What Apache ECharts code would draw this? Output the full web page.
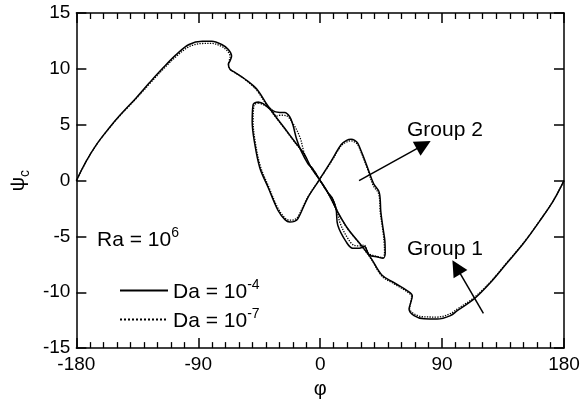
<!DOCTYPE html>
<html>
<head>
<meta charset="utf-8">
<script src="https://cdn.jsdelivr.net/npm/echarts@6/dist/echarts.min.js"></script>
<style>
  html, body { margin: 0; padding: 0; background: #fff; }
  #main { width: 585px; height: 404px; }
</style>
</head>
<body>
<div id="main"></div>
<script>
// psi_c against phi, Ra = 10^6

var xTicks = [-180, -90, 0, 90, 180];
var xMinorSplit = 9;
var yTicks = [-15, -10, -5, 0, 5, 10, 15];
var seriesNames = ['Da = 10^-4', 'Da = 10^-7'];

// group 1 branch (runs over the whole range of phi)
var mainDa4 = [[-180,0],[-172.7,1.74],[-165.3,3.2],[-155.5,4.75],[-148.2,5.8],[-135.9,7.4],[-126.1,8.75],
  [-116.3,10.05],[-106.5,11.25],[-96.8,12.18],[-87,12.47],[-80,12.47],[-72.7,12.18],[-67.8,11.74],
  [-65.4,11.15],[-66.6,10.71],[-67.8,10.41],[-66.6,9.97],[-63,9.68],[-55.6,9.09],[-47,8.21],
  [-39.7,6.88],[-33.6,5.85],[-26.2,4.68],[-18.9,3.5],[-11.5,2.32],[-6.6,1.15],[0,0],[5.6,-1.06],
  [13,-2.82],[20.3,-4.29],[30.1,-5.76],[37.5,-6.94],[45.5,-8.45],[54.6,-9.15],[64.4,-9.88],
  [68,-10.32],[66.9,-10.91],[65.6,-11.5],[69.3,-12.09],[76.7,-12.38],[86.4,-12.4],[96.2,-12.09],
  [101.2,-11.65],[113.4,-10.62],[125.6,-9.15],[137.9,-7.38],[150.1,-5.62],[162.4,-3.56],
  [172.2,-1.79],[180,0]];

var mainDa7 = [[-180,0],[-172.7,1.72],[-165.3,3.18],[-155.5,4.72],[-148.2,5.76],[-135.9,7.33],[-126.1,8.64],
  [-116.3,9.92],[-106.5,11.08],[-96.8,11.98],[-87,12.27],[-80,12.28],[-73,12.02],[-68.5,11.6],
  [-66.5,11.1],[-67.2,10.7],[-67.6,10.35],[-66,9.92],[-62.5,9.62],[-55,9.0],[-47,8.1],
  [-39.7,6.8],[-33.6,5.8],[-26.2,4.62],[-18.9,3.45],[-11.5,2.28],[-6.6,1.12],[0,0],[5.6,-1.1],
  [13,-2.86],[20.3,-4.33],[30.1,-5.8],[37.5,-7.0],[45.5,-8.55],[54.6,-9.25],[64.4,-9.98],
  [67.5,-10.4],[66.8,-10.95],[66,-11.45],[69.5,-11.95],[76.7,-12.2],[86.4,-12.22],[96.2,-11.92],
  [101.2,-11.5],[113.4,-10.5],[125.6,-9.08],[137.9,-7.33],[150.1,-5.58],[162.4,-3.54],
  [172.2,-1.78],[180,0]];

// group 2 branch (closed loop round the middle)
var loopDa4 = [[-46,7.03],[-49.5,6.8],[-50.2,5.27],[-48.6,3.5],[-44.6,1.15],[-38.4,-0.62],[-31.1,-2.68],
  [-26,-3.5],[-22.5,-3.71],[-19,-3.65],[-16.4,-3.41],[-9,-1.5],[-1,0],[8.1,1.74],[15.4,3.21],
  [19.5,3.6],[22.8,3.7],[25.5,3.6],[27.7,3.35],[31.3,2.32],[35,1.15],[39.5,-0.3],[43.6,-1.06],
  [44.8,-2.82],[46.3,-4.2],[47.8,-5.47],[48,-6.5],[46.5,-6.95],[42.4,-6.85],[36.2,-6.65],
  [32.6,-5.91],[28.9,-6.06],[24,-6.06],[19.1,-5.47],[13,-4.0],[11.7,-2.53],[9,-1.6],[5.6,-1.06],
  [0,0],[-5.6,1.06],[-9,1.5],[-14,2.62],[-17.6,3.79],[-20.1,4.97],[-22.5,5.71],[-26.2,6.09],
  [-29.9,6.09],[-36,6.3],[-42.1,6.88],[-46,7.03]];

var loopDa7 = [[-45.5,6.95],[-48.8,6.75],[-49.5,5.3],[-48,3.5],[-44.2,1.3],[-38.2,-0.5],[-31,-2.52],
  [-26,-3.35],[-22.5,-3.55],[-19,-3.5],[-16.6,-3.28],[-9,-1.45],[-1,0],[8.1,1.66],[15.4,3.1],
  [19.5,3.45],[22.8,3.55],[25.5,3.45],[27.7,3.22],[31.3,2.2],[35,1.0],[39.2,-0.45],[43.2,-1.2],
  [44.4,-2.9],[46,-4.25],[47.2,-5.5],[47.5,-6.55],[46,-6.9],[42,-6.78],[36,-6.55],
  [32.3,-5.78],[29,-5.85],[25,-5.8],[20.5,-5.2],[15,-3.9],[12,-2.55],[9,-1.6],[5.6,-1.08],
  [0,0],[-5.6,1.08],[-9,1.6],[-12,2.55],[-15,3.9],[-20.5,5.2],[-25,5.8],[-29,5.85],
  [-32.3,5.78],[-36,6.4],[-42,6.8],[-45.5,6.95]];

// annotation arrows, in data units [tail, centre of the head]
var group2Arrow = [[28.7, 0.0], [76.4, 3.19]];
var group1Arrow = [[120.5, -11.9], [100.6, -7.76]];

var FONT = '"Liberation Sans", Arial, Helvetica, sans-serif';

var chart = echarts.init(document.getElementById('main'), null, {renderer: 'canvas'});

function xAxisOpt(pos, labels) {
  return {
    type: 'value',
    position: pos,
    min: xTicks[0],
    max: xTicks[xTicks.length - 1],
    interval: xTicks[1] - xTicks[0],
    name: labels ? 'φ' : '',
    nameLocation: 'middle',
    nameGap: 26,
    nameTextStyle: {color: '#000', fontSize: 20, fontFamily: FONT},
    axisLine: {show: true, onZero: false, lineStyle: {color: '#000', width: 1.5}},
    axisTick: {show: true, inside: true, length: 10, lineStyle: {color: '#000', width: 1.5}},
    minorTick: {show: true, splitNumber: xMinorSplit, length: 6, lineStyle: {color: '#000', width: 1.3}},
    axisLabel: {show: labels, color: '#000', fontSize: 19, fontFamily: FONT, margin: 7},
    splitLine: {show: false}
  };
}

function yAxisOpt(pos, labels) {
  return {
    type: 'value',
    position: pos,
    min: yTicks[0],
    max: yTicks[yTicks.length - 1],
    interval: yTicks[1] - yTicks[0],
    name: labels ? '{a|ψ}{b|c}' : '',
    nameLocation: 'middle',
    nameRotate: 90,
    nameGap: 44,
    nameTextStyle: {
      color: '#000', fontFamily: FONT,
      rich: {
        a: {fontSize: 20, fontFamily: FONT, color: '#000', verticalAlign: 'top', lineHeight: 24},
        b: {fontSize: 14, fontFamily: FONT, color: '#000', verticalAlign: 'bottom', lineHeight: 24}
      }
    },
    axisLine: {show: true, onZero: false, lineStyle: {color: '#000', width: 1.5}},
    axisTick: {show: true, inside: true, length: 10, lineStyle: {color: '#000', width: 1.5}},
    axisLabel: {show: labels, color: '#000', fontSize: 19, fontFamily: FONT, margin: 6},
    splitLine: {show: false}
  };
}

function lineSeries(name, data, dotted) {
  return {
    name: name,
    type: 'line',
    xAxisIndex: 0,
    yAxisIndex: 0,
    data: data,
    symbol: 'none',
    showSymbol: false,
    smooth: 0.35,
    animation: false,
    silent: true,
    lineStyle: {color: '#000', width: dotted ? 1.3 : 1.5, type: dotted ? 'dotted' : 'solid'},
    itemStyle: {color: '#000'}
  };
}

var rich = {
  b: {fontSize: 21, fontFamily: FONT, color: '#000', verticalAlign: 'bottom', lineHeight: 25},
  s: {fontSize: 14, fontFamily: FONT, color: '#000', verticalAlign: 'top', lineHeight: 25}
};

var option = {
  backgroundColor: '#fff',
  animation: false,
  grid: {left: 74, right: 21, top: 13, bottom: 51},
  legend: {
    orient: 'vertical',
    left: 114,
    top: 273,
    itemWidth: 48,
    itemHeight: 14,
    itemGap: 4,
    selectedMode: false,
    data: seriesNames,
    itemStyle: {color: 'rgba(0,0,0,0)', borderWidth: 0, opacity: 0},
    formatter: function (name) {
      var p = name.split('^');
      return '{b|' + p[0] + '}{s|' + p[1] + '}';
    },
    textStyle: {color: '#000', rich: rich}
  },
  xAxis: [xAxisOpt('bottom', true), xAxisOpt('top', false)],
  yAxis: [yAxisOpt('left', true), yAxisOpt('right', false)],
  series: [
    lineSeries(seriesNames[0], mainDa4, false),
    lineSeries(seriesNames[0], loopDa4, false),
    lineSeries(seriesNames[1], mainDa7, true),
    lineSeries(seriesNames[1], loopDa7, true),
    {
      type: 'lines',
      coordinateSystem: 'cartesian2d',
      xAxisIndex: 0,
      yAxisIndex: 0,
      silent: true,
      animation: false,
      symbol: ['none', 'triangle'],
      symbolSize: [9, 16],
      lineStyle: {color: '#000', width: 1.5, opacity: 1},
      data: [{coords: group2Arrow}, {coords: group1Arrow}]
    }
  ],
  graphic: [
    {type: 'text', left: 97, top: 226, style: {text: '{b|Ra = 10}{s|6}', rich: rich}},
    {type: 'text', left: 407, top: 120, style: {text: 'Group 2', fill: '#000', fontSize: 21, fontFamily: FONT}},
    {type: 'text', left: 407, top: 239, style: {text: 'Group 1', fill: '#000', fontSize: 21, fontFamily: FONT}}
  ]
};
chart.setOption(option);
</script>
</body>
</html>
